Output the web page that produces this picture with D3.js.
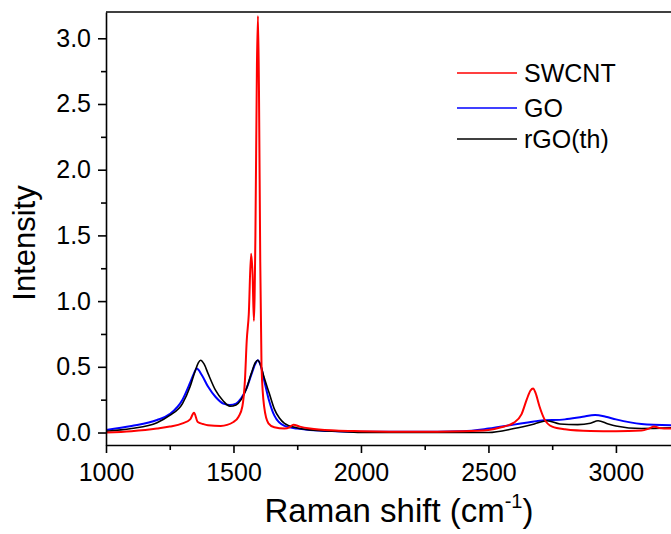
<!DOCTYPE html>
<html>
<head>
<meta charset="utf-8">
<script src="https://cdn.jsdelivr.net/npm/d3@7"></script>
<style>
  body { margin: 0; background: #fff; }
  text { font-family: "Liberation Sans", Arial, sans-serif; fill: #000; }
</style>
</head>
<body>
<svg id="chart" width="671" height="534"></svg>
<script>
// Raman shift (cm-1) and intensity
const swcntX = [1000, 1100, 1200, 1250, 1300, 1330, 1345, 1360, 1380, 1400, 1450, 1500, 1520, 1535, 1545, 1552, 1560, 1569, 1575, 1580, 1586, 1592, 1596, 1600, 1605, 1610, 1620, 1637, 1660, 1700, 1720, 1735, 1760, 1800, 1900, 2000, 2200, 2400, 2500, 2550, 2600, 2630, 2650, 2665, 2675, 2685, 2700, 2720, 2750, 2800, 2900, 3000, 3100, 3130, 3150, 3170, 3216];
const swcntY = [0.0, 0.01, 0.03, 0.045, 0.07, 0.1, 0.15, 0.08, 0.065, 0.055, 0.05, 0.08, 0.12, 0.2, 0.4, 0.7, 0.9, 1.36, 1.2, 0.85, 1.5, 2.8, 3.17, 2.6, 1.3, 0.5, 0.2, 0.07, 0.04, 0.03, 0.04, 0.06, 0.045, 0.03, 0.015, 0.01, 0.005, 0.01, 0.02, 0.04, 0.075, 0.14, 0.25, 0.32, 0.335, 0.3, 0.2, 0.1, 0.045, 0.025, 0.012, 0.01, 0.015, 0.03, 0.045, 0.035, 0.03];

const goX = [1000, 1100, 1200, 1250, 1300, 1330, 1345, 1356, 1375, 1400, 1430, 1460, 1486, 1510, 1530, 1550, 1570, 1585, 1595, 1605, 1620, 1640, 1660, 1700, 1750, 1800, 1900, 2000, 2200, 2400, 2500, 2600, 2700, 2800, 2870, 2918, 2960, 3000, 3100, 3216];
const goY = [0.02, 0.05, 0.095, 0.14, 0.25, 0.38, 0.45, 0.487, 0.44, 0.35, 0.27, 0.22, 0.21, 0.22, 0.26, 0.33, 0.44, 0.52, 0.55, 0.52, 0.4, 0.24, 0.13, 0.05, 0.03, 0.02, 0.01, 0.005, 0.005, 0.01, 0.03, 0.06, 0.09, 0.1, 0.12, 0.133, 0.12, 0.1, 0.065, 0.055];

const rgoX = [1000, 1100, 1200, 1250, 1300, 1330, 1350, 1362, 1371, 1385, 1400, 1430, 1460, 1486, 1510, 1530, 1550, 1570, 1585, 1595, 1605, 1620, 1640, 1660, 1680, 1700, 1750, 1800, 1900, 2000, 2200, 2400, 2500, 2600, 2680, 2730, 2780, 2850, 2900, 2930, 2970, 3000, 3100, 3216];
const rgoY = [0.01, 0.03, 0.075, 0.13, 0.22, 0.35, 0.47, 0.53, 0.55, 0.52, 0.45, 0.32, 0.24, 0.2, 0.21, 0.25, 0.33, 0.45, 0.53, 0.55, 0.52, 0.42, 0.3, 0.18, 0.11, 0.07, 0.035, 0.02, 0.01, 0.0, 0.0, 0.0, 0.0, 0.03, 0.065, 0.09, 0.065, 0.06, 0.07, 0.09, 0.065, 0.05, 0.03, 0.035];

const seriesNames = ["SWCNT", "GO", "rGO(th)"];
const seriesColors = ["#ff0000", "#0000ff", "#000000"];

const xTicks = [1000, 1500, 2000, 2500, 3000];
const yTicks = [0.0, 0.5, 1.0, 1.5, 2.0, 2.5, 3.0];

const svg = d3.select("#chart");
const width = +svg.attr("width");
const height = +svg.attr("height");

const margin = {top: 12, right: 0, bottom: 89, left: 106};

const x = d3.scaleLinear()
  .domain([1000, 3216])
  .range([margin.left, width - margin.right]);

const y = d3.scaleLinear()
  .domain([-0.095, 3.2])
  .range([height - margin.bottom, margin.top]);

const line = d3.line()
  .x(d => x(d[0]))
  .y(d => y(d[1]))
  .curve(d3.curveMonotoneX);

const swcnt = swcntX.map((v, i) => [v, swcntY[i]]);
const go = goX.map((v, i) => [v, goY[i]]);
const rgo = rgoX.map((v, i) => [v, rgoY[i]]);

svg.append("defs").append("clipPath").attr("id", "clip")
  .append("rect")
  .attr("x", margin.left).attr("y", margin.top)
  .attr("width", width - margin.left).attr("height", height - margin.bottom - margin.top);

const plot = svg.append("g").attr("clip-path", "url(#clip)");

plot.append("path").datum(go)
  .attr("fill", "none").attr("stroke", seriesColors[1]).attr("stroke-width", 2)
  .attr("d", line);
plot.append("path").datum(rgo)
  .attr("fill", "none").attr("stroke", seriesColors[2]).attr("stroke-width", 1.6)
  .attr("d", line);
plot.append("path").datum(swcnt)
  .attr("fill", "none").attr("stroke", seriesColors[0]).attr("stroke-width", 2)
  .attr("d", line);

// X-axis
svg.append("g")
  .attr("transform", `translate(0, ${height - margin.bottom})`)
  .call(d3.axisBottom(x).tickValues(xTicks).tickSize(8).tickSizeOuter(0).tickPadding(10).tickFormat(d3.format("d")));
svg.append("g")
  .attr("transform", `translate(0, ${height - margin.bottom})`)
  .call(d3.axisBottom(x).tickValues([1250, 1750, 2250, 2750]).tickSize(5).tickFormat(""))
  .select(".domain").remove();

// Y-axis
svg.append("g")
  .attr("transform", `translate(${margin.left}, 0)`)
  .call(d3.axisLeft(y).tickValues(yTicks).tickSize(8).tickSizeOuter(0).tickPadding(7).tickFormat(d3.format(".1f")));
svg.append("g")
  .attr("transform", `translate(${margin.left}, 0)`)
  .call(d3.axisLeft(y).tickValues([0.25, 0.75, 1.25, 1.75, 2.25, 2.75]).tickSize(5).tickFormat(""))
  .select(".domain").remove();

svg.selectAll(".domain").attr("stroke-width", 1.6);
svg.selectAll(".tick line").attr("stroke-width", 1.6);
svg.selectAll(".tick text").style("font-size", "25px").style("font-family", "Liberation Sans, Arial, sans-serif");

// top frame line
svg.append("line")
  .attr("x1", margin.left).attr("x2", width)
  .attr("y1", margin.top).attr("y2", margin.top)
  .attr("stroke", "#000").attr("stroke-width", 1.6);

// legend
const legend = svg.append("g");
const legendY = [73, 108, 139];
seriesNames.forEach((name, i) => {
  legend.append("line")
    .attr("x1", 457).attr("x2", 517)
    .attr("y1", legendY[i]).attr("y2", legendY[i])
    .attr("stroke", seriesColors[i]).attr("stroke-width", 1.6);
  legend.append("text")
    .attr("x", 524).attr("y", legendY[i] + 9)
    .style("font-size", "25px")
    .text(name);
});

// axis titles
const xt = svg.append("text")
  .attr("x", 399)
  .attr("y", 522)
  .attr("text-anchor", "middle")
  .style("font-size", "33px");
xt.append("tspan").text("Raman shift (cm");
xt.append("tspan").attr("dy", -14).style("font-size", "20px").text("-1");
xt.append("tspan").attr("dy", 14).text(")");

svg.append("text")
  .attr("transform", "rotate(-90)")
  .attr("x", -243)
  .attr("y", 35)
  .attr("text-anchor", "middle")
  .style("font-size", "31px")
  .text("Intensity");
</script>
</body>
</html>
